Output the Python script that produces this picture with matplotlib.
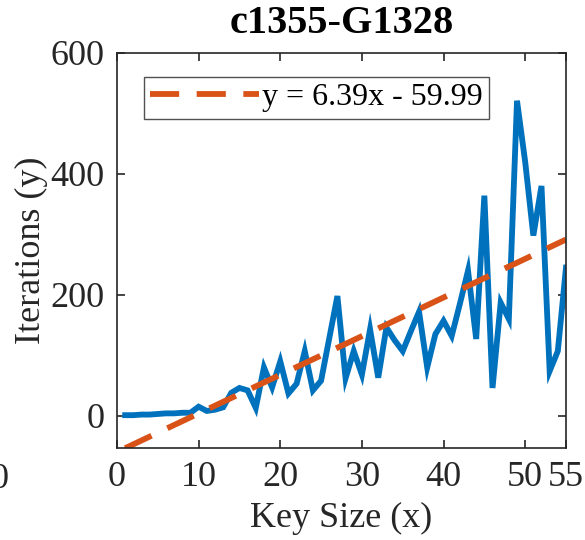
import matplotlib
matplotlib.use("Agg")
import matplotlib.pyplot as plt
import numpy as np

# key size vs. iterations
key_size = list(range(1, 56))
iterations = [1, 1, 2, 2, 3, 4, 4, 5, 5, 15,
              8, 10, 14, 38, 46, 42, 13, 80, 47, 90,
              37, 53, 107, 42, 58, 128, 198, 62, 107, 68,
              143, 63, 146, 125, 107, 140, 172, 80, 135, 157,
              132, 185, 240, 127, 364, 46, 187, 160, 521, 420,
              298, 380, 74, 107, 245]

fit_slope = 6.39
fit_icpt = -59.99
fit_label = "y = 6.39x - 59.99"

x_ticks = [0, 10, 20, 30, 40, 50, 55]
y_ticks = [0, 200, 400, 600]

plt.rcParams['font.family'] = ['Liberation Serif', 'DejaVu Serif']

fig = plt.figure(figsize=(5.85, 5.4), dpi=100)
ax = fig.add_axes([0.2, 0.17, 0.7675, 0.732])

ax.plot(key_size, iterations, color='#0072BD', lw=4.2, solid_joinstyle='miter')
xf = np.array([key_size[0], key_size[-1]])
ax.plot(xf, fit_slope * xf + fit_icpt, color='#D95319', lw=4.2,
        dashes=(5, 3), label=fit_label)

ax.set_xlim(0, 55)
ax.set_ylim(fit_slope * 1 + fit_icpt, 600)
ax.set_xticks(x_ticks)
ax.set_yticks(y_ticks)
ax.tick_params(direction='in', length=6, width=1.2, top=True, right=True,
               labelsize=26, colors='#262626', pad=9)
for s in ax.spines.values():
    s.set_color('#262626')
    s.set_linewidth(1.2)

ax.set_xlabel("Key Size (x)", fontsize=26, color='#262626', labelpad=6)
ax.set_ylabel("Iterations (y)", fontsize=26, color='#262626', labelpad=2)
ax.set_title("c1355-G1328", fontsize=29, fontweight='bold', pad=14)

leg = ax.legend(loc='upper left', bbox_to_anchor=(0.06, 0.94), fontsize=23,
                handlelength=3.4, frameon=True, fancybox=False,
                borderpad=0.2, handletextpad=0.1, borderaxespad=0)
leg.get_frame().set_edgecolor('#262626')
leg.get_frame().set_linewidth(1.0)

# cut-off label from neighbouring panel
fig.text(0.0, 0.112, "0", fontsize=26, ha='center', va='center', color='#262626')

fig.savefig("out.png", dpi=100)
